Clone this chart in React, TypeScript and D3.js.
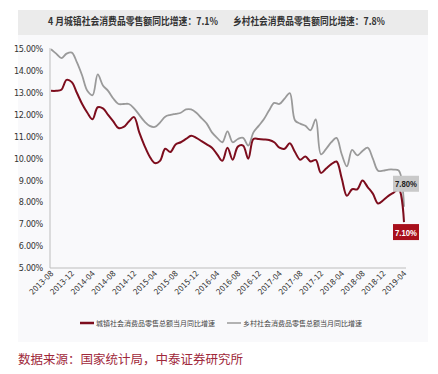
import { useEffect, useRef } from 'react'
import * as d3 from 'd3'

// --- DATA ---
const startYear = 2013
const startMonth = 8
const monthCount = 69

const urbanGrowth = [
  13.1, 13.1, 13.15, 13.6, 13.5, 13.0, 12.5, 12.1, 11.8, 12.35, 12.3, 12.0,
  11.7, 11.4, 11.45, 11.7, 11.9, 11.2, 10.6, 10.1, 9.8, 9.9, 10.45, 10.3,
  10.65, 10.75, 10.9, 11.05, 10.95, 10.8, 10.65, 10.5, 10.2, 9.9, 10.5, 9.95,
  10.55, 10.6, 10.0, 10.9, 10.9, 10.88, 10.85, 10.75, 10.5, 10.45, 10.7, 10.3,
  9.95, 10.1, 9.87, 9.94, 9.35, 9.55, 9.75, 9.87, 9.1, 8.3, 8.6, 8.6,
  9.0, 8.7, 8.4, 7.95, 8.1, 8.3, 8.45, 8.6, 7.1,
]

const ruralGrowth = [
  15.0, 14.8, 14.6, 14.8, 14.85, 14.4, 13.8, 13.1, 12.9, 13.85, 13.35, 13.1,
  12.75, 12.5, 12.5, 12.5, 12.3, 12.0, 11.7, 11.5, 11.45, 11.65, 11.92, 12.0,
  12.05, 12.1, 12.25, 12.25, 12.1, 11.85, 11.6, 11.2, 10.95, 10.75, 11.25, 10.75,
  10.9, 10.95, 10.6, 11.2, 11.5, 11.8, 12.2, 12.55, 12.5, 12.75, 13.0, 11.75,
  11.6, 11.5, 11.3, 11.8, 10.2, 10.45, 10.75, 10.95, 10.2, 9.65, 10.4, 10.15,
  10.35, 10.5, 10.0, 9.45, 9.45, 9.5, 9.5, 9.45, 7.8,
]

const yTicks = [5, 6, 7, 8, 9, 10, 11, 12, 13, 14, 15]
const labelEvery = 4

const titleParts = ['4 月城镇社会消费品零售额同比增速：7.1%', '乡村社会消费品零售额同比增速：7.8%']
const seriesNames = ['城镇社会消费品零售总额当月同比增速', '乡村社会消费品零售总额当月同比增速']
const sourceText = '数据来源：国家统计局，中泰证券研究所'

const months = d3.range(monthCount).map((i) => {
  const m = startMonth - 1 + i
  const y = startYear + Math.floor(m / 12)
  return `${y}-${String((m % 12) + 1).padStart(2, '0')}`
})

const RED = '#7d0d1d'
const GRAY = '#9a9a9a'

export default function App() {
  const svgRef = useRef<SVGSVGElement | null>(null)

  useEffect(() => {
    if (!svgRef.current) return
    const width = 438
    const height = 374

    const svg = d3.select(svgRef.current)
    svg.selectAll('*').remove()
    svg.attr('width', width).attr('height', height)

    // --- BACKGROUND ---
    svg.append('rect').attr('x', 18).attr('y', 35).attr('width', 410).attr('height', 307).attr('fill', '#f9f9fb')
    svg.append('rect').attr('x', 18).attr('y', 10).attr('width', 410).attr('height', 25).attr('fill', '#ebebeb')

    // title, two parts
    const titlePos = [
      { x: 48, w: 170 },
      { x: 233, w: 152 },
    ]
    titleParts.forEach((t, i) => {
      svg
        .append('text')
        .attr('x', titlePos[i].x)
        .attr('y', 25)
        .attr('textLength', titlePos[i].w)
        .attr('lengthAdjust', 'spacingAndGlyphs')
        .attr('font-family', '"Noto Sans CJK SC", sans-serif')
        .attr('font-size', 10)
        .attr('font-weight', 'bold')
        .attr('fill', '#333')
        .text(t)
    })

    // --- SCALES ---
    const x = d3.scalePoint<string>().domain(months).range([51, 404])
    const y = d3.scaleLinear().domain([5, 15]).range([268, 49.3])

    // --- AXES ---
    svg.append('line').attr('x1', 50).attr('x2', 50).attr('y1', 48).attr('y2', 268).attr('stroke', '#bdbdbd')
    svg.append('line').attr('x1', 50).attr('x2', 406).attr('y1', 268).attr('y2', 268).attr('stroke', '#bdbdbd')

    svg
      .append('g')
      .selectAll('text')
      .data(yTicks)
      .enter()
      .append('text')
      .attr('x', 43)
      .attr('y', (d) => y(d) + 3)
      .attr('text-anchor', 'end')
      .attr('font-family', '"Liberation Sans Narrow", "DejaVu Sans Condensed", sans-serif')
      .attr('font-size', 9)
      .attr('letter-spacing', -0.3)
      .attr('fill', '#333')
      .text((d) => `${d.toFixed(2)}%`)

    svg
      .append('g')
      .selectAll('text')
      .data(months.filter((_, i) => i % labelEvery === 0))
      .enter()
      .append('text')
      .attr('transform', (d) => `translate(${(x(d) ?? 0) + 3},${274}) rotate(-45)`)
      .attr('text-anchor', 'end')
      .attr('font-family', '"Liberation Sans Narrow", "DejaVu Sans Condensed", sans-serif')
      .attr('font-size', 8)
      .attr('fill', '#333')
      .text((d) => d)

    // --- LINES ---
    const line = d3
      .line<number>()
      .x((_, i) => x(months[i]) ?? 0)
      .y((d) => y(d))
      .curve(d3.curveCatmullRom.alpha(0.5))

    svg.append('path').datum(ruralGrowth).attr('d', line).attr('fill', 'none').attr('stroke', GRAY).attr('stroke-width', 1.8)
    svg.append('path').datum(urbanGrowth).attr('d', line).attr('fill', 'none').attr('stroke', RED).attr('stroke-width', 2)

    // --- END LABELS ---
    const lastMonth = months[monthCount - 1]
    const labels = [
      { v: ruralGrowth[monthCount - 1], bg: '#c9c9c9', fg: '#222', dy: -23 },
      { v: urbanGrowth[monthCount - 1], bg: '#a8101c', fg: '#fff', dy: 10 },
    ]
    labels.forEach((l) => {
      const cx = (x(lastMonth) ?? 0) + 1
      const cy = y(l.v) + l.dy
      svg.append('rect').attr('x', cx - 12).attr('y', cy - 8).attr('width', 26).attr('height', 16).attr('fill', l.bg)
      svg
        .append('text')
        .attr('x', cx + 1)
        .attr('y', cy + 3.5)
        .attr('text-anchor', 'middle')
        .attr('textLength', 22)
        .attr('lengthAdjust', 'spacingAndGlyphs')
        .attr('font-family', '"Liberation Sans", sans-serif')
        .attr('font-size', 9.5)
        .attr('font-weight', 'bold')
        .attr('fill', l.fg)
        .text(`${l.v.toFixed(2)}%`)
    })

    // --- LEGEND ---
    const legend = [
      { name: seriesNames[0], color: RED, x: 80, w: 2.5 },
      { name: seriesNames[1], color: GRAY, x: 227, w: 1.5 },
    ]
    legend.forEach((l) => {
      svg.append('line').attr('x1', l.x).attr('x2', l.x + 14).attr('y1', 323).attr('y2', 323).attr('stroke', l.color).attr('stroke-width', l.w)
      svg
        .append('text')
        .attr('x', l.x + 16)
        .attr('y', 326)
        .attr('font-family', '"Noto Sans CJK SC", sans-serif')
        .attr('font-size', 7)
        .attr('fill', '#444')
        .text(l.name)
    })

    // --- SOURCE ---
    svg
      .append('text')
      .attr('x', 18)
      .attr('y', 364)
      .attr('font-family', '"Noto Sans CJK SC", sans-serif')
      .attr('font-size', 12.5)
      .attr('fill', '#a0283a')
      .text(sourceText)
  }, [])

  return (
    <div style={{ position: 'fixed', left: 0, top: 0, width: 438, height: 374, background: '#fff' }}>
      <svg ref={svgRef} style={{ display: 'block' }} />
    </div>
  )
}
